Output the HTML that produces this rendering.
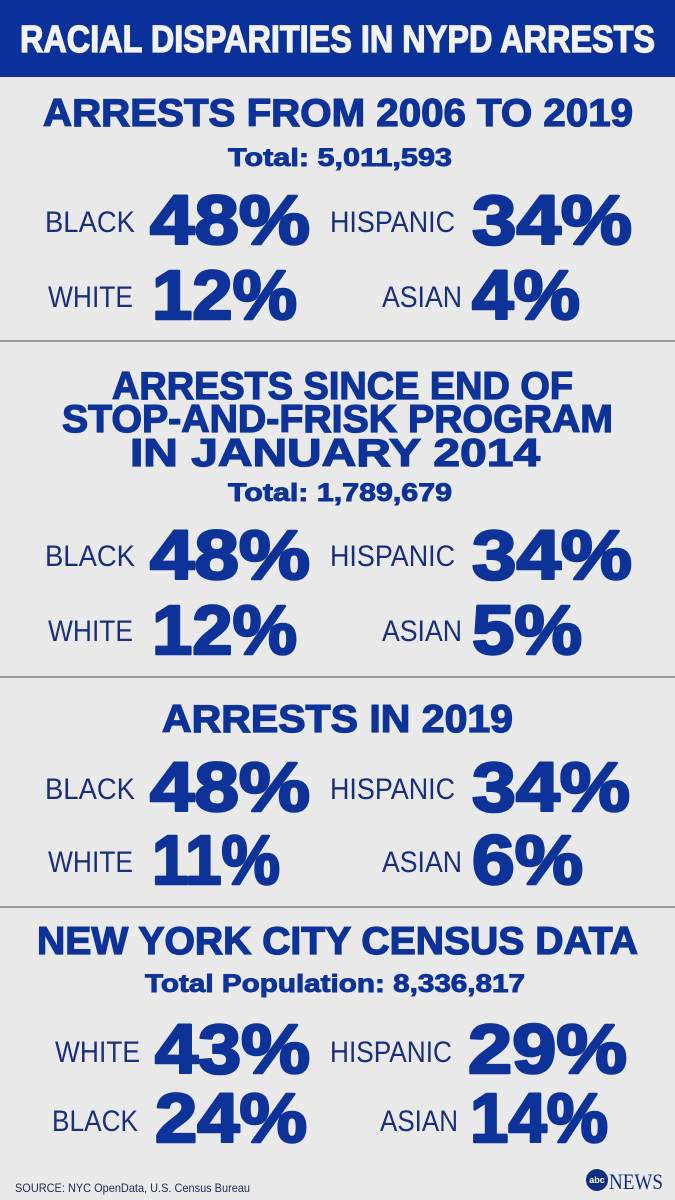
<!DOCTYPE html>
<html><head><meta charset="utf-8"><style>
html,body{margin:0;padding:0;background:#e9e9e9;}
svg{display:block;}
.h{font-family:"Liberation Sans",sans-serif;font-weight:bold;fill:#0d3399;stroke:#0d3399;stroke-width:1.3;}
.l{font-family:"Liberation Sans",sans-serif;font-weight:normal;fill:#1a2f7a;}
.p{font-family:"Liberation Sans",sans-serif;font-weight:bold;fill:#0d3399;stroke:#0d3399;stroke-width:2.6;stroke-linejoin:round;}
.t{stroke-width:0.9;}
</style></head><body>
<svg width="675" height="1200" viewBox="0 0 675 1200">
<rect x="0" y="0" width="675" height="1200" fill="#e9e9e9"/>
<rect x="0" y="0" width="675" height="77" fill="#0a3199"/>
<text x="20" y="52" font-size="38" textLength="635" lengthAdjust="spacingAndGlyphs" class="h" style="fill:#f2f2f2;stroke:#f2f2f2">RACIAL DISPARITIES IN NYPD ARRESTS</text>

<!-- Section 1 -->
<text x="43" y="126" font-size="39" textLength="590" lengthAdjust="spacingAndGlyphs" class="h">ARRESTS FROM 2006 TO 2019</text>
<text x="228" y="166" font-size="25" textLength="224" lengthAdjust="spacingAndGlyphs" class="h t">Total: 5,011,593</text>
<text x="45" y="232" font-size="30" textLength="90" lengthAdjust="spacingAndGlyphs" class="l">BLACK</text>
<text x="150" y="244" font-size="70" textLength="160" lengthAdjust="spacingAndGlyphs" class="p">48%</text>
<text x="330" y="232" font-size="30" textLength="125" lengthAdjust="spacingAndGlyphs" class="l">HISPANIC</text>
<text x="472" y="244" font-size="70" textLength="160" lengthAdjust="spacingAndGlyphs" class="p">34%</text>
<text x="48" y="307" font-size="30" textLength="85" lengthAdjust="spacingAndGlyphs" class="l">WHITE</text>
<text x="152" y="319" font-size="70" textLength="145" lengthAdjust="spacingAndGlyphs" class="p">12%</text>
<text x="382" y="307" font-size="30" textLength="80" lengthAdjust="spacingAndGlyphs" class="l">ASIAN</text>
<text x="472" y="319" font-size="70" textLength="108" lengthAdjust="spacingAndGlyphs" class="p">4%</text>
<rect x="0" y="340" width="675" height="2" fill="#9a9a9a"/>

<!-- Section 2 -->
<text x="112" y="399" font-size="39" textLength="461" lengthAdjust="spacingAndGlyphs" class="h">ARRESTS SINCE END OF</text>
<text x="62" y="432" font-size="39" textLength="551" lengthAdjust="spacingAndGlyphs" class="h">STOP-AND-FRISK PROGRAM</text>
<text x="130" y="466" font-size="39" textLength="410" lengthAdjust="spacingAndGlyphs" class="h">IN JANUARY 2014</text>
<text x="228" y="501" font-size="25" textLength="224" lengthAdjust="spacingAndGlyphs" class="h t">Total: 1,789,679</text>
<text x="45" y="566" font-size="30" textLength="90" lengthAdjust="spacingAndGlyphs" class="l">BLACK</text>
<text x="150" y="579" font-size="70" textLength="160" lengthAdjust="spacingAndGlyphs" class="p">48%</text>
<text x="330" y="566" font-size="30" textLength="125" lengthAdjust="spacingAndGlyphs" class="l">HISPANIC</text>
<text x="472" y="579" font-size="70" textLength="160" lengthAdjust="spacingAndGlyphs" class="p">34%</text>
<text x="48" y="641" font-size="30" textLength="85" lengthAdjust="spacingAndGlyphs" class="l">WHITE</text>
<text x="152" y="654" font-size="70" textLength="145" lengthAdjust="spacingAndGlyphs" class="p">12%</text>
<text x="382" y="641" font-size="30" textLength="80" lengthAdjust="spacingAndGlyphs" class="l">ASIAN</text>
<text x="472" y="654" font-size="70" textLength="110" lengthAdjust="spacingAndGlyphs" class="p">5%</text>
<rect x="0" y="676" width="675" height="2" fill="#9a9a9a"/>

<!-- Section 3 -->
<text x="162" y="732" font-size="39" textLength="351" lengthAdjust="spacingAndGlyphs" class="h">ARRESTS IN 2019</text>
<text x="45" y="799" font-size="30" textLength="90" lengthAdjust="spacingAndGlyphs" class="l">BLACK</text>
<text x="150" y="811" font-size="70" textLength="160" lengthAdjust="spacingAndGlyphs" class="p">48%</text>
<text x="330" y="799" font-size="30" textLength="125" lengthAdjust="spacingAndGlyphs" class="l">HISPANIC</text>
<text x="472" y="811" font-size="70" textLength="158" lengthAdjust="spacingAndGlyphs" class="p">34%</text>
<text x="48" y="872" font-size="30" textLength="85" lengthAdjust="spacingAndGlyphs" class="l">WHITE</text>
<text x="152" y="884" font-size="70" textLength="128" lengthAdjust="spacingAndGlyphs" class="p">11%</text>
<text x="382" y="872" font-size="30" textLength="80" lengthAdjust="spacingAndGlyphs" class="l">ASIAN</text>
<text x="472" y="884" font-size="70" textLength="111" lengthAdjust="spacingAndGlyphs" class="p">6%</text>
<rect x="0" y="906" width="675" height="2" fill="#9a9a9a"/>

<!-- Section 4 -->
<text x="37" y="954" font-size="39" textLength="601" lengthAdjust="spacingAndGlyphs" class="h">NEW YORK CITY CENSUS DATA</text>
<text x="145" y="992" font-size="25" textLength="380" lengthAdjust="spacingAndGlyphs" class="h t">Total Population: 8,336,817</text>
<text x="55" y="1062" font-size="30" textLength="85" lengthAdjust="spacingAndGlyphs" class="l">WHITE</text>
<text x="155" y="1073" font-size="70" textLength="155" lengthAdjust="spacingAndGlyphs" class="p">43%</text>
<text x="330" y="1062" font-size="30" textLength="122" lengthAdjust="spacingAndGlyphs" class="l">HISPANIC</text>
<text x="468" y="1073" font-size="70" textLength="159" lengthAdjust="spacingAndGlyphs" class="p">29%</text>
<text x="52" y="1131" font-size="30" textLength="86" lengthAdjust="spacingAndGlyphs" class="l">BLACK</text>
<text x="155" y="1142" font-size="70" textLength="152" lengthAdjust="spacingAndGlyphs" class="p">24%</text>
<text x="380" y="1131" font-size="30" textLength="78" lengthAdjust="spacingAndGlyphs" class="l">ASIAN</text>
<text x="470" y="1142" font-size="70" textLength="138" lengthAdjust="spacingAndGlyphs" class="p">14%</text>

<!-- Footer -->
<text x="15" y="1192" font-size="12" textLength="235" lengthAdjust="spacingAndGlyphs" class="l" style="fill:#1a2a55">SOURCE: NYC OpenData, U.S. Census Bureau</text>
<g>
<circle cx="597" cy="1180" r="11" fill="#0d2e7a"/>
<text x="597" y="1183" font-size="9" text-anchor="middle" font-family="Liberation Sans, sans-serif" font-weight="bold" fill="#ffffff">abc</text>
<text x="609" y="1189" font-size="22" textLength="54" lengthAdjust="spacingAndGlyphs" font-family="Liberation Serif, serif" fill="#0d2e7a">NEWS</text>
</g>
</svg>
</body></html>
